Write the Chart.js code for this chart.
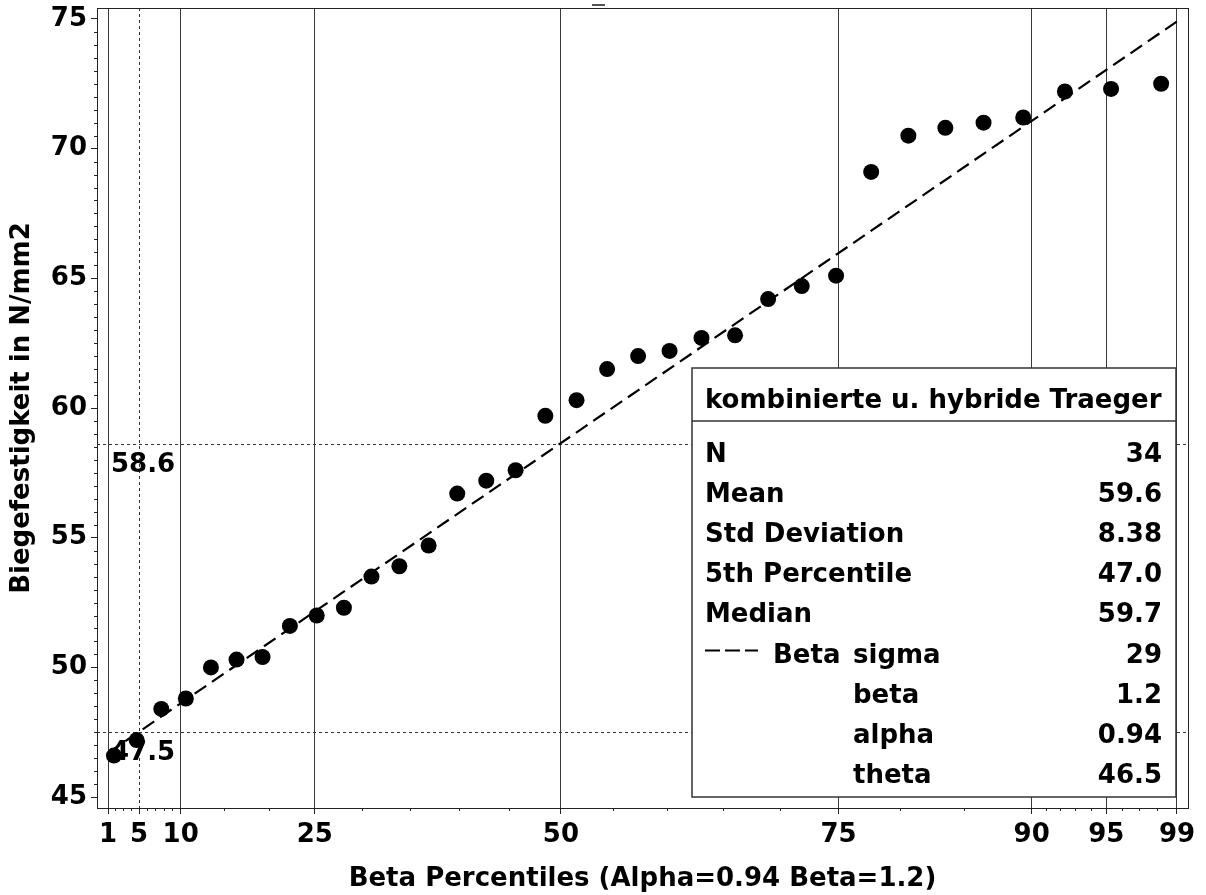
<!DOCTYPE html>
<html>
<head>
<meta charset="utf-8">
<script src="https://cdn.jsdelivr.net/npm/chart.js@4.4.1/dist/chart.umd.min.js"></script>
<style>
  body { margin: 0; background: #fff; }
  #chart { display: block; }
</style>
</head>
<body>
<canvas id="chart" width="1206" height="895"></canvas>
<script>
// beta shape parameters of the probability axis
const ALPHA = 0.94;
const BETA = 1.2;

// plotting positions (percent) and sorted values
const pointPct = [1.8, 4.7, 7.7, 10.6, 13.5, 16.4, 19.3, 22.3, 25.2, 28.1, 31.0, 33.9,
  36.9, 39.8, 42.7, 45.6, 48.5, 51.5, 54.4, 57.3, 60.2, 63.1, 66.1, 69.0,
  71.9, 74.8, 77.7, 80.7, 83.6, 86.5, 89.4, 92.3, 95.3, 98.2];
const pointVals = [46.6, 47.2, 48.4, 48.8, 50.0, 50.3, 50.4, 51.6, 52.0, 52.3, 53.5, 53.9,
  54.7, 56.7, 57.2, 57.6, 59.7, 60.3, 61.5, 62.0, 62.2, 62.7, 62.8, 64.2,
  64.7, 65.1, 69.1, 70.5, 70.8, 71.0, 71.2, 72.2, 72.3, 72.5];

// fitted beta reference line (end points)
const fitPct = [1, 99];
const fitVals = [46.7, 74.9];

const xTickPct = [1, 5, 10, 25, 50, 75, 90, 95, 99];
const xMinorPct = [2, 3, 4, 6, 7, 8, 9, 15, 20, 30, 35, 40, 45, 55, 60, 65, 70, 80, 85, 91, 92, 93, 94, 96, 97, 98];
const yTicks = [45, 50, 55, 60, 65, 70, 75];

// reference lines: horizontal values with their labels, vertical percentile
const hrefVals = [58.6, 47.5];
const hrefLabels = ['58.6', '47.5'];
const vrefPct = [5];

// inset table
const insetTitle = 'kombinierte u. hybride Traeger';
const statLabels = ['N', 'Mean', 'Std Deviation', '5th Percentile', 'Median'];
const statValues = ['34', '59.6', '8.38', '47.0', '59.7'];
const fitName = 'Beta';
const fitParamNames = ['sigma', 'beta', 'alpha', 'theta'];
const fitParamValues = ['29', '1.2', '0.94', '46.5'];

// ---- beta quantile for the axis ----
function lnGamma(z) {
  const c = [0.99999999999980993, 676.5203681218851, -1259.1392167224028, 771.32342877765313,
    -176.61502916214059, 12.507343278686905, -0.13857109526572012, 9.9843695780195716e-6, 1.5056327351493116e-7];
  if (z < 0.5) return Math.log(Math.PI / Math.sin(Math.PI * z)) - lnGamma(1 - z);
  z -= 1;
  let s = c[0];
  for (let i = 1; i < 9; i++) s += c[i] / (z + i);
  const t = z + 7.5;
  return 0.5 * Math.log(2 * Math.PI) + (z + 0.5) * Math.log(t) - t + Math.log(s);
}
function betacf(a, b, x) {
  const FPMIN = 1e-300;
  const qab = a + b, qap = a + 1, qam = a - 1;
  let c = 1, d = 1 - qab * x / qap;
  if (Math.abs(d) < FPMIN) d = FPMIN;
  d = 1 / d;
  let h = d;
  for (let m = 1; m <= 300; m++) {
    const m2 = 2 * m;
    let aa = m * (b - m) * x / ((qam + m2) * (a + m2));
    d = 1 + aa * d; if (Math.abs(d) < FPMIN) d = FPMIN;
    c = 1 + aa / c; if (Math.abs(c) < FPMIN) c = FPMIN;
    d = 1 / d; h *= d * c;
    aa = -(a + m) * (qab + m) * x / ((a + m2) * (qap + m2));
    d = 1 + aa * d; if (Math.abs(d) < FPMIN) d = FPMIN;
    c = 1 + aa / c; if (Math.abs(c) < FPMIN) c = FPMIN;
    d = 1 / d;
    const del = d * c;
    h *= del;
    if (Math.abs(del - 1) < 1e-14) break;
  }
  return h;
}
function betaCdf(x, a, b) {
  if (x <= 0) return 0;
  if (x >= 1) return 1;
  const bt = Math.exp(lnGamma(a + b) - lnGamma(a) - lnGamma(b) + a * Math.log(x) + b * Math.log(1 - x));
  if (x < (a + 1) / (a + b + 2)) return bt * betacf(a, b, x) / a;
  return 1 - bt * betacf(b, a, 1 - x) / b;
}
function q(pct) {
  let lo = 0, hi = 1;
  for (let i = 0; i < 60; i++) {
    const mid = (lo + hi) / 2;
    if (betaCdf(mid, ALPHA, BETA) < pct / 100) lo = mid; else hi = mid;
  }
  return (lo + hi) / 2;
}

// axis range: a little room outside the 1 and 99 ticks
const qLo = q(xTickPct[0]), qHi = q(xTickPct[xTickPct.length - 1]);
const pad = (qHi - qLo) * 0.0103;
const xMin = qLo - pad, xMax = qHi + pad;

const FONT = { family: 'DejaVu Sans', size: 26, weight: 'bold', lineHeight: 1.2 };
const FONT_CSS = 'bold 26px "DejaVu Sans"';

const decor = {
  id: 'decor',
  beforeDatasetsDraw(chart) {
    const { ctx, chartArea: a, scales: { x, y } } = chart;
    ctx.save();
    // minor ticks
    ctx.strokeStyle = '#222';
    ctx.lineWidth = 1;
    ctx.beginPath();
    xMinorPct.forEach(p => {
      const px = Math.round(x.getPixelForValue(q(p))) + 0.5;
      ctx.moveTo(px, a.bottom);
      ctx.lineTo(px, a.bottom + 3);
    });
    for (let i = 0; i < yTicks.length - 1; i++) {
      for (let k = 1; k < 10; k++) {
        const v = yTicks[i] + (yTicks[i + 1] - yTicks[i]) * k / 10;
        const py = Math.round(y.getPixelForValue(v)) + 0.5;
        ctx.moveTo(a.left, py);
        ctx.lineTo(a.left - 3, py);
      }
    }
    ctx.stroke();

    // reference lines
    ctx.strokeStyle = '#333';
    ctx.setLineDash([3, 3]);
    ctx.beginPath();
    hrefVals.forEach(v => {
      const py = Math.round(y.getPixelForValue(v)) + 0.5;
      ctx.moveTo(a.left, py);
      ctx.lineTo(a.right, py);
    });
    vrefPct.forEach(p => {
      const px = Math.round(x.getPixelForValue(q(p))) + 0.5;
      ctx.moveTo(px, a.top);
      ctx.lineTo(px, a.bottom);
    });
    ctx.stroke();
    ctx.setLineDash([]);

    ctx.fillStyle = '#000';
    ctx.font = FONT_CSS;
    ctx.textAlign = 'left';
    ctx.textBaseline = 'alphabetic';
    hrefVals.forEach((v, i) => {
      ctx.fillText(hrefLabels[i], a.left + 14, y.getPixelForValue(v) + 28);
    });
    ctx.restore();
  },
  afterDatasetsDraw(chart) {
    const { ctx, chartArea: a } = chart;
    ctx.save();
    // inset box
    const left = a.right - 496, top = a.bottom - 440, right = a.right - 12, bottom = a.bottom - 11;
    ctx.fillStyle = '#fff';
    ctx.fillRect(left, top, right - left, bottom - top);
    ctx.strokeStyle = '#333';
    ctx.lineWidth = 1.5;
    ctx.strokeRect(left, top, right - left, bottom - top);
    ctx.beginPath();
    ctx.moveTo(left, top + 53);
    ctx.lineTo(right, top + 53);
    ctx.stroke();

    ctx.fillStyle = '#000';
    ctx.font = FONT_CSS;
    ctx.textBaseline = 'alphabetic';
    ctx.textAlign = 'left';
    ctx.fillText(insetTitle, left + 13, top + 40);
    const row = i => top + 94 + i * 40.1;
    statLabels.forEach((s, i) => {
      ctx.textAlign = 'left';
      ctx.fillText(s, left + 13, row(i));
      ctx.textAlign = 'right';
      ctx.fillText(statValues[i], right - 14, row(i));
    });
    const r0 = statLabels.length;
    // dashed sample for the fitted curve
    ctx.strokeStyle = '#000';
    ctx.lineWidth = 2;
    ctx.setLineDash([15, 5]);
    ctx.beginPath();
    ctx.moveTo(left + 13, row(r0) - 12);
    ctx.lineTo(left + 66, row(r0) - 12);
    ctx.stroke();
    ctx.setLineDash([]);
    ctx.textAlign = 'left';
    ctx.fillText(fitName, left + 81, row(r0));
    fitParamNames.forEach((s, i) => {
      ctx.textAlign = 'left';
      ctx.fillText(s, left + 161, row(r0 + i));
      ctx.textAlign = 'right';
      ctx.fillText(fitParamValues[i], right - 14, row(r0 + i));
    });

    // frame
    ctx.strokeStyle = '#222';
    ctx.lineWidth = 1;
    ctx.strokeRect(Math.round(a.left) + 0.5, Math.round(a.top) + 0.5, Math.round(a.right - a.left), Math.round(a.bottom - a.top));
    // small stray mark above the frame
    ctx.fillStyle = '#555';
    ctx.fillRect(592, 4, 13, 2);
    ctx.restore();
  }
};

const pts = pointPct.map((p, i) => ({ x: q(p), y: pointVals[i] }));
const fitPts = fitPct.map((p, i) => ({ x: q(p), y: fitVals[i] }));

new Chart(document.getElementById('chart'), {
  type: 'scatter',
  data: {
    datasets: [
      {
        data: fitPts,
        showLine: true,
        borderColor: '#000',
        borderWidth: 2.2,
        borderDash: [14, 7],
        pointRadius: 0,
        fill: false,
        order: 2
      },
      {
        data: pts,
        backgroundColor: '#000',
        borderWidth: 0,
        pointRadius: 8,
        order: 1
      }
    ]
  },
  options: {
    responsive: false,
    animation: false,
    devicePixelRatio: 1,
    layout: { padding: { top: 7, right: 18, left: 0, bottom: 0 } },
    plugins: { legend: { display: false }, tooltip: { enabled: false } },
    scales: {
      x: {
        type: 'linear',
        min: xMin,
        max: xMax,
        afterBuildTicks: s => { s.ticks = xTickPct.map(p => ({ value: q(p) })); },
        afterFit: s => { s.height = 87; s.paddingLeft = 0; s.paddingRight = 0; },
        ticks: {
          autoSkip: false, maxRotation: 0, padding: 6, color: '#000', font: FONT,
          callback: (v, i) => xTickPct[i]
        },
        grid: {
          color: c => vrefPct.includes(xTickPct[c.index]) ? 'rgba(0,0,0,0)' : '#3a3a3a',
          lineWidth: 1, tickLength: 6, tickColor: '#222'
        },
        border: { color: '#000', width: 1 },
        title: {
          display: true, text: 'Beta Percentiles (Alpha=0.94 Beta=1.2)', color: '#000',
          font: FONT, padding: { top: 0, bottom: 0 }
        }
      },
      y: {
        min: 44.58,
        max: 75.42,
        afterBuildTicks: s => { s.ticks = yTicks.map(v => ({ value: v })); },
        afterFit: s => { s.width = 97; s.paddingTop = 0; s.paddingBottom = 0; },
        ticks: { padding: 4, color: '#000', font: FONT },
        grid: { drawOnChartArea: false, tickLength: 6, tickColor: '#222' },
        border: { color: '#000', width: 1 },
        title: {
          display: true, text: 'Biegefestigkeit in N/mm2', color: '#000',
          font: FONT, padding: { top: 7, bottom: 0 }
        }
      }
    }
  },
  plugins: [decor]
});
</script>
</body>
</html>
